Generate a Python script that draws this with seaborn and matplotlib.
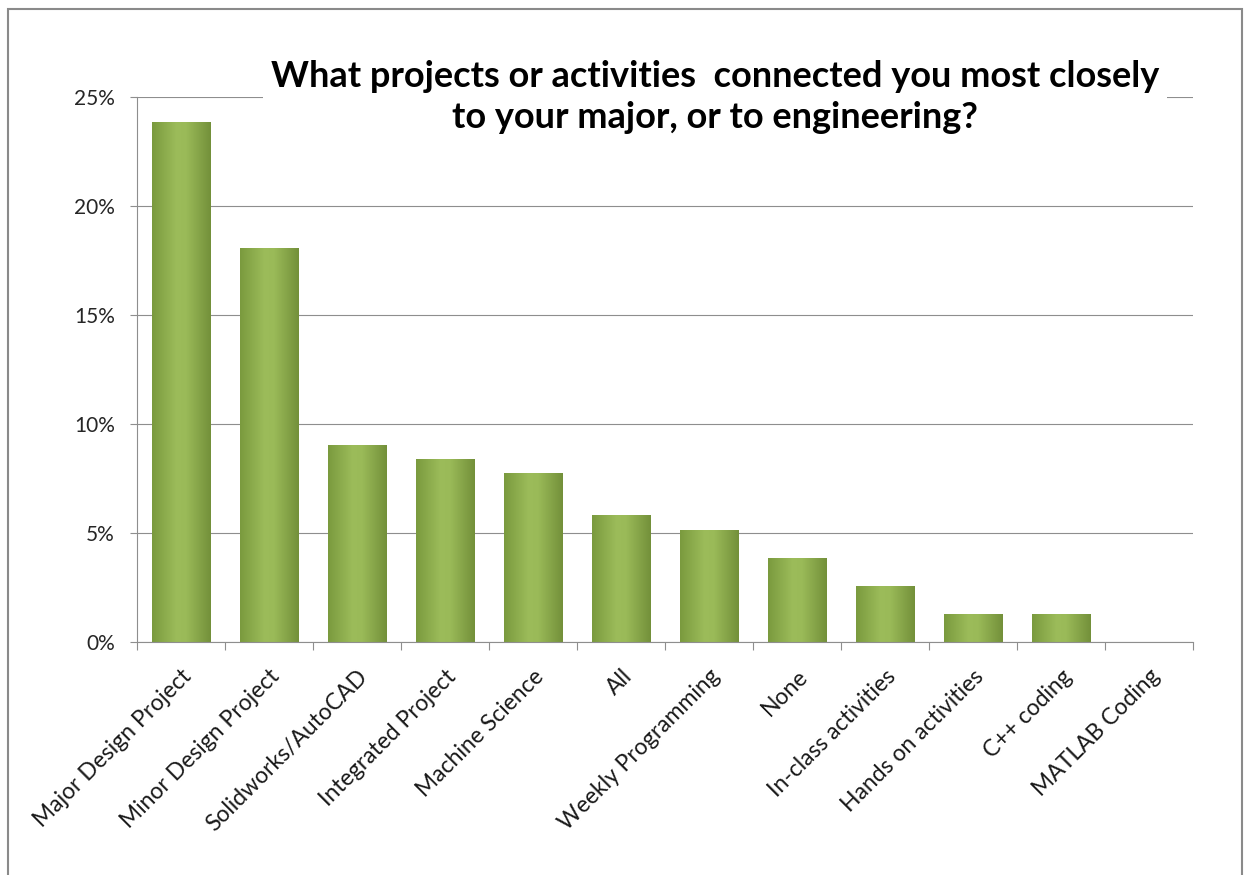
import numpy as np
import pandas as pd
import matplotlib
matplotlib.use("Agg")
import matplotlib.pyplot as plt
from matplotlib.colors import LinearSegmentedColormap
from matplotlib.patches import Rectangle
from matplotlib.ticker import PercentFormatter, FixedLocator
import seaborn as sns

# Survey responses (share of respondents)
categories = [
    "Major Design Project", "Minor Design Project", "Solidworks/AutoCAD",
    "Integrated Project", "Machine Science", "All", "Weekly Programming",
    "None", "In-class activities", "Hands on activities", "C++ coding",
    "MATLAB Coding",
]
shares = [23.87, 18.06, 9.03, 8.39, 7.74, 5.81, 5.16, 3.87, 2.58, 1.29, 1.29, 0.0]
title = ("What projects or activities  connected you most closely\n"
         "to your major, or to engineering?")

sns.set_theme(style="white")
plt.rcParams["font.family"] = ["Lato", "DejaVu Sans"]

W, H = 1244, 875
fig = plt.figure(figsize=(W / 100, H / 100), dpi=100)
ax = fig.add_axes([137 / W, 1 - 642 / H, (1193 - 137) / W, (642 - 97) / H])

df = pd.DataFrame({"category": categories, "share": shares})
sns.barplot(data=df, x="category", y="share", color="#9BBB59", width=0.67,
            ax=ax, zorder=2, linewidth=0)

# Cylinder-like horizontal shading on each bar
shade = LinearSegmentedColormap.from_list(
    "olive", [(0.0, "#7A9A3E"), (0.42, "#9CBC5A"), (0.58, "#9ABA58"), (1.0, "#73903A")])
grad = np.linspace(0, 1, 256).reshape(1, -1)
for p in ax.patches:
    x0, y0 = p.get_x(), p.get_y()
    w, h = p.get_width(), p.get_height()
    if h <= 0:
        continue
    im = ax.imshow(grad, extent=[x0, x0 + w, y0, y0 + h], aspect="auto",
                   cmap=shade, zorder=2.5, interpolation="bilinear")
    im.set_clip_path(p)
ax.set_ylim(0, 25)
ax.set_xlim(-0.5, len(categories) - 0.5)
ax.set_aspect("auto")

grid_c = "#8E8E8E"
ax.yaxis.set_major_locator(FixedLocator([0, 5, 10, 15, 20, 25]))
ax.yaxis.set_major_formatter(PercentFormatter(decimals=0))
ax.grid(axis="y", color=grid_c, linewidth=0.8, zorder=0)
ax.grid(axis="x", visible=False)
ax.set_axisbelow(True)

for side in ["top", "right"]:
    ax.spines[side].set_visible(False)
for side in ["left", "bottom"]:
    ax.spines[side].set_color(grid_c)
    ax.spines[side].set_linewidth(0.8)

ax.tick_params(axis="y", which="major", direction="out", length=5, width=0.8,
               color=grid_c, pad=11, labelsize=15, labelcolor="#262626", left=True)
# category boundary tick marks
ax.set_xticks(np.arange(-0.5, len(categories) + 0.5, 1), minor=True)
ax.tick_params(axis="x", which="minor", direction="out", length=6, width=0.8,
               color=grid_c, bottom=True)
ax.tick_params(axis="x", which="major", length=0, pad=17, labelsize=16.5,
               labelcolor="#1A1A1A")
ax.set_xticks(range(len(categories)))
ax.set_xticklabels(categories, rotation=45, ha="right", rotation_mode="anchor")
ax.set_xlabel("")
ax.set_ylabel("")

fig.text(715 / W, 1 - 60 / H, title, ha="center", va="top", fontsize=26,
         fontweight="bold", color="black", linespacing=1.3, zorder=5,
         bbox=dict(facecolor="white", edgecolor="none", pad=6))

fig.patches.append(Rectangle((8 / W, -0.2), (1242 - 8) / W, 1.2 - 9 / H,
                             transform=fig.transFigure, fill=False,
                             edgecolor="#8A8A8A", linewidth=1.5))

fig.savefig("out.png", dpi=100, facecolor="white")
